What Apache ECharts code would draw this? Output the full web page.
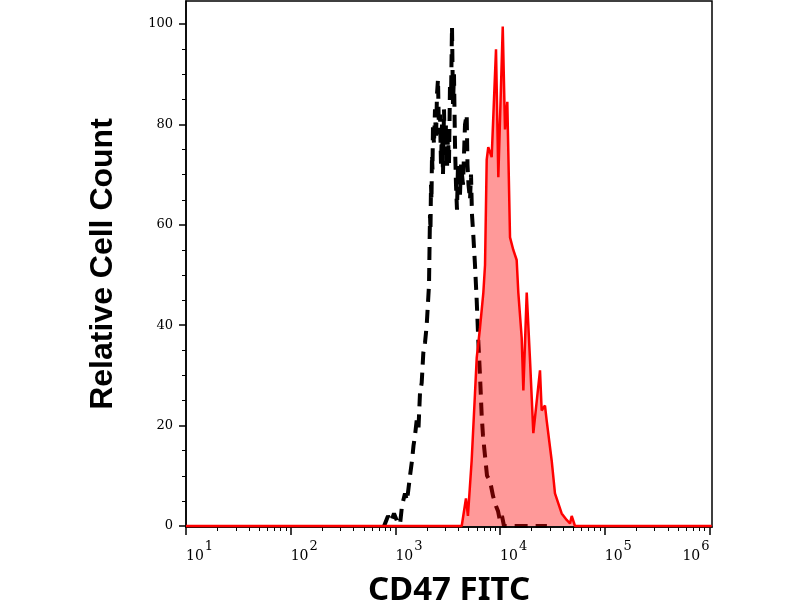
<!DOCTYPE html>
<html>
<head>
<meta charset="utf-8">
<script src="https://cdn.jsdelivr.net/npm/echarts@6/dist/echarts.min.js"></script>
<style>
html,body{margin:0;padding:0;background:#fff;}
#chart{width:800px;height:600px;}
</style>
</head>
<body>
<div id="chart"></div>
<script>
// Control (black dashed) histogram: fluorescence values and relative counts
const controlX = [780, 813, 850, 908, 970, 1036, 1107, 1156, 1235, 1291, 1379, 1441, 1489, 1539, 1597, 1662, 1718, 1783, 1848, 1918, 1991, 2048, 2094, 2117, 2141, 2164, 2188, 2212, 2237, 2261, 2286, 2337, 2389, 2442, 2496, 2552, 2608, 2667, 2726, 2787, 2849, 2912, 2977, 3043, 3111, 3180, 3250, 3323, 3396, 3472, 3510, 3549, 3628, 3709, 3791, 3876, 3962, 4050, 4140, 4232, 4423, 4622, 4797, 4882, 4991, 5159, 5274, 5391, 5547, 5758, 5977, 6191, 6427, 6672, 6866, 7176, 7499, 8009, 8554, 9138, 9548, 9977, 10425, 10894, 28000];
const controlY = [0, 0, 2, 0.8, 2.5, 1, 0.3, 4, 6.5, 5, 10, 13, 16, 18, 21, 19.5, 26.5, 28.5, 34.5, 36.5, 40, 44.5, 48, 55, 62, 59, 68, 65, 74, 71, 80, 76, 83, 77, 86, 89, 78, 82, 72, 80, 70, 83, 74, 80, 71, 78, 72, 88, 85, 99.5, 92, 84, 90, 76, 68, 63, 72, 70, 66, 72, 68, 80, 82, 72, 68, 65, 70, 62, 58, 52, 45, 37, 30, 22, 18, 14, 10, 9, 6, 4, 3, 1, 2, 0, 0];

// CD47 stained (red filled) histogram
const stainedX = [10, 4300, 4720, 4930, 5350, 5760, 5980, 6430, 6920, 7180, 7450, 7710, 8310, 9140, 9620, 10600, 11140, 11720, 12440, 13370, 14400, 14930, 16080, 16680, 17960, 19320, 20770, 24050, 24950, 26840, 27860, 31110, 33430, 38730, 43250, 46540, 48300, 51900, 1050000];
const stainedY = [0, 0, 5.5, 2, 13, 26.5, 33.5, 39.5, 46.5, 52, 73, 75.5, 73.5, 95, 69.5, 99.5, 79, 84.5, 57.5, 55, 53, 46.5, 37.5, 27, 46.5, 33, 18.5, 31, 23, 24, 21, 13, 6.5, 2.5, 1.2, 0.5, 2, 0, 0];

// Axis ticks
const xMajorTicks = [10, 100, 1000, 10000, 100000, 1000000];
const xMinorTicks = [];
for (let e = 1; e <= 5; e++) for (let m = 2; m <= 9; m++) xMinorTicks.push(m * Math.pow(10, e));
const yMajorTicks = [0, 20, 40, 60, 80, 100];
const yMinorTicks = [5, 10, 15, 25, 30, 35, 45, 50, 55, 65, 70, 75, 85, 90, 95];

const xTitle = 'CD47 FITC';
const yTitle = 'Relative Cell Count';

const X_MIN = 10, X_MAX = 1056800, Y_MIN = -0.2, Y_MAX = 104.6;

const zip = (xs, ys) => xs.map((x, i) => [x, ys[i]]);

const chart = echarts.init(document.getElementById('chart'), null, {renderer: 'canvas'});
chart.setOption({
  animation: false,
  backgroundColor: '#fff',
  grid: {left: 186, right: 88, top: 1, bottom: 73, containLabel: false, outerBoundsMode: 'none',
         show: true, borderColor: '#000', borderWidth: 1.5, backgroundColor: 'transparent'},
  xAxis: [{
    type: 'log', logBase: 10, min: X_MIN, max: X_MAX, position: 'bottom',
    axisLine: {show: true, onZero: false, lineStyle: {color: '#000', width: 1.5}},
    axisTick: {show: true, length: 8, customValues: xMajorTicks, lineStyle: {color: '#000', width: 1.5}},
    axisLabel: {
      customValues: xMajorTicks, margin: 13, align: 'left', alignMaxLabel: 'right',
      formatter: v => '{b|10}{s|' + Math.round(Math.log10(v)) + '}',
      rich: {
        b: {fontFamily: 'DejaVu Serif', fontSize: 14, color: '#000'},
        s: {fontFamily: 'DejaVu Serif', fontSize: 13, color: '#000', padding: [0, 0, 19, 1]}
      }
    },
    splitLine: {show: false},
    name: xTitle, nameLocation: 'middle', nameGap: 47,
    nameTextStyle: {fontFamily: 'Noto Sans', fontWeight: 'bold', fontSize: 33, color: '#000'}
  }, {
    type: 'log', logBase: 10, min: X_MIN, max: X_MAX, position: 'bottom',
    axisLine: {show: false, onZero: false},
    axisTick: {show: true, length: 4, customValues: xMinorTicks, lineStyle: {color: '#000', width: 1}},
    axisLabel: {show: false}, splitLine: {show: false}
  }],
  yAxis: [{
    type: 'value', min: Y_MIN, max: Y_MAX, position: 'left',
    axisLine: {show: true, onZero: false, lineStyle: {color: '#000', width: 1.5}},
    axisTick: {show: true, length: 7, customValues: yMajorTicks, lineStyle: {color: '#000', width: 1.5}},
    axisLabel: {customValues: yMajorTicks, margin: 13, padding: [4, 0, 0, 0], fontFamily: 'DejaVu Serif', fontSize: 13, color: '#000'},
    splitLine: {show: false},
    name: yTitle, nameLocation: 'middle', nameGap: 67,
    nameTextStyle: {fontFamily: 'Liberation Sans', fontWeight: 'bold', fontSize: 32, color: '#000'}
  }, {
    type: 'value', min: Y_MIN, max: Y_MAX, position: 'left',
    axisLine: {show: false, onZero: false},
    axisTick: {show: true, length: 4, customValues: yMinorTicks, lineStyle: {color: '#000', width: 1}},
    axisLabel: {show: false}, splitLine: {show: false}
  }],
  series: [{
    name: 'Control', type: 'line', xAxisIndex: 0, yAxisIndex: 0,
    showSymbol: false, symbol: 'none',
    lineStyle: {color: '#000', width: 4, type: [13, 8]},
    data: zip(controlX, controlY), z: 2
  }, {
    name: 'CD47', type: 'line', xAxisIndex: 0, yAxisIndex: 0,
    showSymbol: false, symbol: 'none',
    lineStyle: {color: '#ff0000', width: 2.5},
    areaStyle: {color: '#ff0000', opacity: 0.4},
    data: zip(stainedX, stainedY), z: 3
  }]
});
</script>
</body>
</html>
